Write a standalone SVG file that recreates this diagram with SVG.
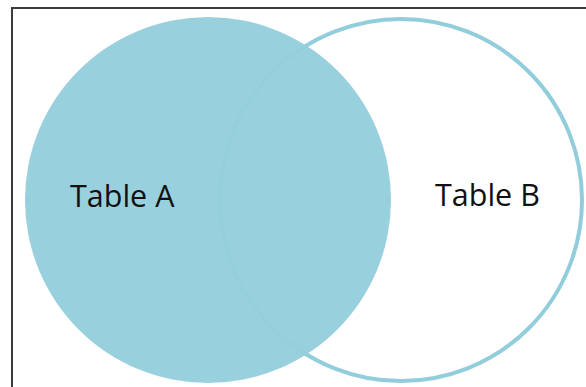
<svg xmlns="http://www.w3.org/2000/svg" width="586" height="387" viewBox="0 0 586 387">
<style>
.lbl{font-family:"Open Sans","Liberation Sans",sans-serif;font-size:30.5px;fill:#111}
.frame{fill:none;stroke:#3a3a3a;stroke-width:2}
</style>
<rect width="586" height="387" fill="#fff"/>
<path class="frame" d="M12 387 V8 H586"/>
<g id="tableB">
<circle cx="401" cy="200" r="181" fill="none" stroke="#92CDDC" stroke-width="4"/>
</g>
<g id="tableA">
<circle cx="208" cy="200" r="183" fill="#96CEDC" fill-opacity="0.97"/>
</g>
<text class="lbl" x="70" y="207">Table A</text>
<text class="lbl" x="435" y="206">Table B</text>
</svg>
